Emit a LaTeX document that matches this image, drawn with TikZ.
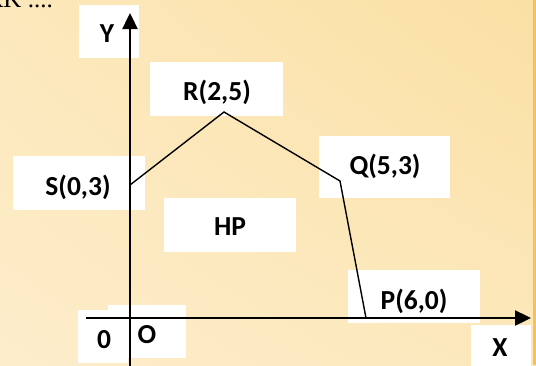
\documentclass[tikz,border=0pt]{standalone}
\usepackage{fontspec}
\setmainfont{Carlito}
\newfontfamily\serifpart{Liberation Serif}
\usetikzlibrary{arrows.meta,shadings}
\definecolor{bgA}{HTML}{FDEDCB}
\definecolor{bgB}{HTML}{FBE0A4}
\definecolor{edgeC}{HTML}{F2C25C}
\tikzset{
  box/.style={fill=white, draw=none, inner sep=0pt},
  lbl/.style={font=\fontsize{27.5}{30}\selectfont\bfseries, inner sep=0pt, text=black},
  axis/.style={line width=2.4pt, draw=black, -{Triangle[length=16pt,width=15pt]}},
  edge/.style={line width=1.4pt, draw=black, line join=miter},
}
\begin{document}
\begin{tikzpicture}[x=1pt,y=-1pt]
\useasboundingbox (0,0) rectangle (536,365);
\shade[lower left=bgA, upper right=bgB, lower right=bgA!60!bgB, upper left=bgA!60!bgB] (0,365) rectangle (536,0);
\fill[edgeC] (533,0) rectangle (536,365);
\begin{scope}
\clip (0,0) rectangle (536,365);
\node[font=\serifpart\fontsize{25}{28}\selectfont, anchor=base east, inner sep=0pt] (title) at (53,7) {RK ....};
\end{scope}
% white boxes
\node[box, minimum width=60pt, minimum height=53pt] (ybox) at (109,31.5) {};
\node[box, minimum width=133pt, minimum height=54pt] (rbox) at (216.5,89) {};
\node[box, minimum width=132pt, minimum height=54pt] (sbox) at (79,183) {};
\node[box, minimum width=132pt, minimum height=54pt] (hpbox) at (230,225) {};
\node[box, minimum width=131pt, minimum height=62pt] (qbox) at (384.5,167) {};
\node[box, minimum width=132pt, minimum height=53pt] (pbox) at (414,296.5) {};
\node[box, minimum width=60pt, minimum height=41pt] (xbox) at (501,345.5) {};
\node[box, minimum width=50pt, minimum height=53pt] (zbox) at (103,336.5) {};
\node[box, minimum width=78pt, minimum height=53pt] (obox) at (147,331.5) {};
% coordinates
\coordinate (S) at (130,185);
\coordinate (R) at (224,112);
\coordinate (Q) at (340,181);
\coordinate (P) at (366,318);
\coordinate (ybot) at (130,366);
\coordinate (ytop) at (130,13);
\coordinate (xleft) at (86,318);
\coordinate (xright) at (531,318);
% axes and polygon
\draw[axis] (ybot) -- (ytop);
\draw[axis] (xleft) -- (xright);
\draw[edge] (S) -- (R) -- (Q) -- (P);
% labels
\node[lbl] (ylbl) at (107,34) {Y};
\node[lbl] (rlbl) at (217,92) {R(2,5)};
\node[lbl] (slbl) at (78,187) {S(0,3)};
\node[lbl] (hplbl) at (230,227) {HP};
\node[lbl] (qlbl) at (385,166) {Q(5,3)};
\node[lbl] (plbl) at (414,301) {P(6,0)};
\node[lbl] (xlbl) at (500,348) {X};
\node[lbl] (zlbl) at (104,340) {0};
\node[lbl] (olbl) at (147,335) {O};
\end{tikzpicture}
\end{document}
